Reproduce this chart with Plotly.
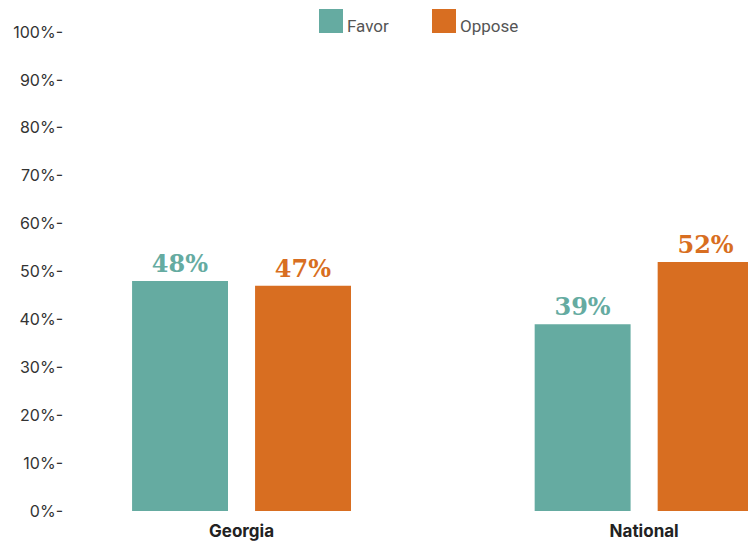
import plotly.graph_objects as go

regions = ["Georgia", "National"]
favor = [48, 39]
oppose = [47, 52]
series_names = ["Favor", "Oppose"]
y_ticks = [0, 10, 20, 30, 40, 50, 60, 70, 80, 90, 100]
y_tick_labels = [f"{v}%-" for v in y_ticks]

teal = "#65aba1"
orange = "#d86e21"

fig = go.Figure()
for name, vals, col in [(series_names[0], favor, teal), (series_names[1], oppose, orange)]:
    fig.add_trace(go.Bar(
        x=regions, y=vals, name=name, marker=dict(color=col, line=dict(width=0)),
        text=[f"<b>{v}%</b>" for v in vals], textposition="outside",
        textfont=dict(family="DejaVu Serif", size=24, color=col),
        cliponaxis=False, showlegend=False,
    ))

fig.update_layout(
    width=748, height=544,
    margin=dict(l=66, r=0, t=32, b=33),
    paper_bgcolor="white", plot_bgcolor="white",
    barmode="group", bargap=0.389, bargroupgap=0.22,
    xaxis=dict(
        type="category", range=[-0.436, 1.258], showgrid=False, zeroline=False,
        showline=False, ticks="", ticklabelstandoff=8,
        tickfont=dict(family="Inter", size=17, color="#222222", weight="bold"),
    ),
    yaxis=dict(
        range=[0, 100], tickvals=y_ticks, ticktext=y_tick_labels, showgrid=False,
        zeroline=False, showline=False, ticks="", ticklabelstandoff=2,
        tickfont=dict(family="Inter", size=16, color="#333333"),
    ),
)

# Legend drawn as swatches with captions above the plot
plot_w = 748 - 66
plot_h = 544 - 32 - 33
for name, col, x0 in [(series_names[0], teal, 319), (series_names[1], orange, 432)]:
    fig.add_shape(type="rect", xref="paper", yref="paper",
                  x0=(x0 - 66) / plot_w, x1=(x0 + 24 - 66) / plot_w,
                  y0=(511 - 33) / plot_h, y1=(511 - 9) / plot_h,
                  fillcolor=col, line=dict(width=0))
    fig.add_annotation(xref="paper", yref="paper", x=(x0 + 26 - 66) / plot_w,
                       y=(511 - 26) / plot_h, text=name, showarrow=False,
                       xanchor="left", yanchor="middle",
                       font=dict(family="Roboto", size=17, color="#555555"))

fig.write_html("out.html")
